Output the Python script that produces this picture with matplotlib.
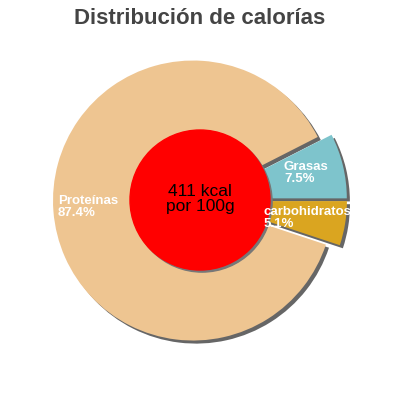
import matplotlib.pyplot as plt
from matplotlib.patches import Circle

plt.rcParams['font.family'] = ['Liberation Sans', 'DejaVu Sans']

# data
labels = ['Grasas', 'Proteínas', 'carbohidratos']
values = [7.5, 87.4, 5.1]
colors = ['#7ec4cc', '#eec591', '#daa520']
energy = '411 kcal\npor 100g'
title = 'Distribución de calorías'

R = 140.0  # pie radius in pixels

fig = plt.figure(figsize=(4, 4), dpi=100)
ax = fig.add_axes([0, 0, 1, 1])
ax.set_aspect('equal')
ax.axis('off')

explode = [0.05] * len(values)
sh = (0.022, -0.022)

# shadow
ax.pie(values, colors=['#666666'] * len(values), explode=explode,
       startangle=0, counterclock=True, radius=1, center=sh,
       wedgeprops=dict(linewidth=0))
wedges, _ = ax.pie(values, colors=colors, explode=explode,
                   startangle=0, counterclock=True, radius=1,
                   wedgeprops=dict(linewidth=0))
ax.set_xlim(-200 / R, 200 / R)
ax.set_ylim(-200 / R, 200 / R)

# centre
ax.add_patch(Circle((0.015, -0.015), 0.5, color='#777777', zorder=3))
ax.add_patch(Circle((0, 0), 0.5, color='#ff0000', zorder=4))
ax.text(0, 0.005, energy, ha='center', va='center', fontsize=12.5,
        color='black', zorder=5, linespacing=1.0)

def px(x, y):
    return (x - 200) / R, (200 - y) / R

pos = {'Grasas': px(284, 173), 'Proteínas': px(58, 207), 'carbohidratos': px(264, 218)}
for lab, val in zip(labels, values):
    x, y = pos[lab]
    ax.text(x, y, f'{lab}\n{val}%', ha='left', va='center', fontsize=9.5,
            fontweight='bold', color='white', zorder=6, linespacing=0.95)

fig.text(0.5, 0.955, title, ha='center', va='center', fontsize=16,
         fontweight='bold', color='#444444')

fig.savefig('out.png', dpi=100)
